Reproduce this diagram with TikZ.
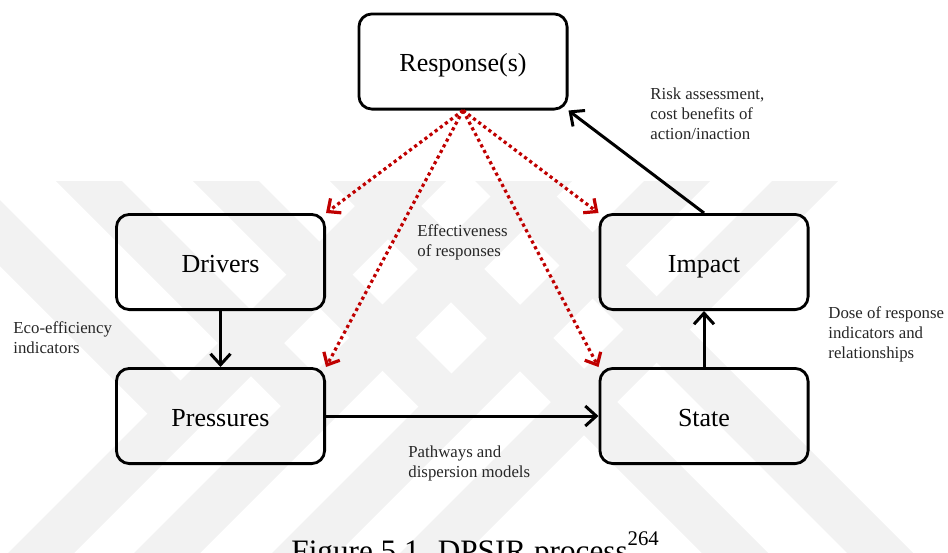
\documentclass[tikz,border=0pt]{standalone}
\usepackage{fontspec}
\setmainfont{Liberation Serif}
\usetikzlibrary{arrows.meta}
\definecolor{wmgray}{RGB}{242,242,242}
\definecolor{respred}{RGB}{192,0,0}
\begin{document}
\begin{tikzpicture}[x=0.5pt,y=-0.5pt,
  stage/.style={draw, line width=1.4pt, rounded corners=6.5pt,
    minimum width=104.1pt, minimum height=47.6pt, inner sep=0pt,
    text height=11.5pt, text depth=1.5pt,
    font=\fontsize{13}{15}\selectfont},
  flow/.style={line width=1.5pt, -{Straight Barb[length=5.5pt,width=10pt]}},
  feedback/.style={respred, line width=1.6pt, dash pattern=on 1.6pt off 1.6pt,
    -{Straight Barb[length=5pt,width=9pt]}},
  note/.style={align=left, inner sep=0pt, anchor=base west,
    text=black!85, font=\fontsize{8.4}{10}\selectfont},
  band/.style={fill=wmgray, draw=none}]

\useasboundingbox (0,0) rectangle (948,552);

\begin{scope}
\clip (0,0) rectangle (948,552);

% background emblem: light diagonal bands
\fill[band] (380,181) -- (446,181) -- (67,560) -- (1,560) -- cycle;
\fill[band] (506,181) -- (572,181) -- (193,560) -- (127,560) -- cycle;
\fill[band] (644,181) -- (710,181) -- (331,560) -- (265,560) -- cycle;
\fill[band] (772,181) -- (838,181) -- (459,560) -- (393,560) -- cycle;
\fill[band] (330,181) -- (396,181) -- (775,560) -- (709,560) -- cycle;
\fill[band] (475,181) -- (541,181) -- (920,560) -- (854,560) -- cycle;
\fill[band] (-85,181) -- (-19,181) -- (197,397) -- (164,430) -- cycle;
\fill[band] (56,181) -- (122,181) -- (330.5,389.5) -- (297.5,422.5) -- cycle;
\fill[band] (193,181) -- (259,181) -- (468,390) -- (435,423) -- cycle;

% the five stages
\node[stage] (resp) at (463,61.5) {Response(s)};
\node[stage] (drv)  at (220.5,262) {Drivers};
\node[stage] (prs)  at (220.5,416) {Pressures};
\node[stage] (imp)  at (704,262) {Impact};
\node[stage] (sta)  at (704,416) {State};

% causal chain
\draw[flow] (drv.south) -- (prs.north);
\draw[flow] (prs.east) -- (sta.west);
\draw[flow] (sta.north) -- (imp.south);
\draw[flow] (imp.north) -- (resp.south east);

% responses acting back on the chain
\draw[feedback] (resp.south) -- (drv.north east);
\draw[feedback] (resp.south) -- (prs.north east);
\draw[feedback] (resp.south) -- (imp.north west);
\draw[feedback] (resp.south) -- (sta.north west);

% indicator labels (anchored at the baseline of their last line)
\node[note] (lEff)  at (417,256) {Effectiveness\\of responses};
\node[note] (lRisk) at (650,139) {Risk assessment,\\cost benefits of\\action/inaction};
\node[note] (lEco)  at (13,353)  {Eco-efficiency\\indicators};
\node[note] (lDose) at (828,358) {Dose of response\\indicators and\\relationships};
\node[note] (lPath) at (408,477) {Pathways and\\dispersion models};

% caption
\node[anchor=base west, inner sep=0pt, font=\fontsize{15.6}{18}\selectfont] (cap) at (291,561)
  {Figure 5.1. DPSIR process\raisebox{8pt}{\fontsize{10.4}{12}\selectfont 264}};
\end{scope}
\end{tikzpicture}
\end{document}
